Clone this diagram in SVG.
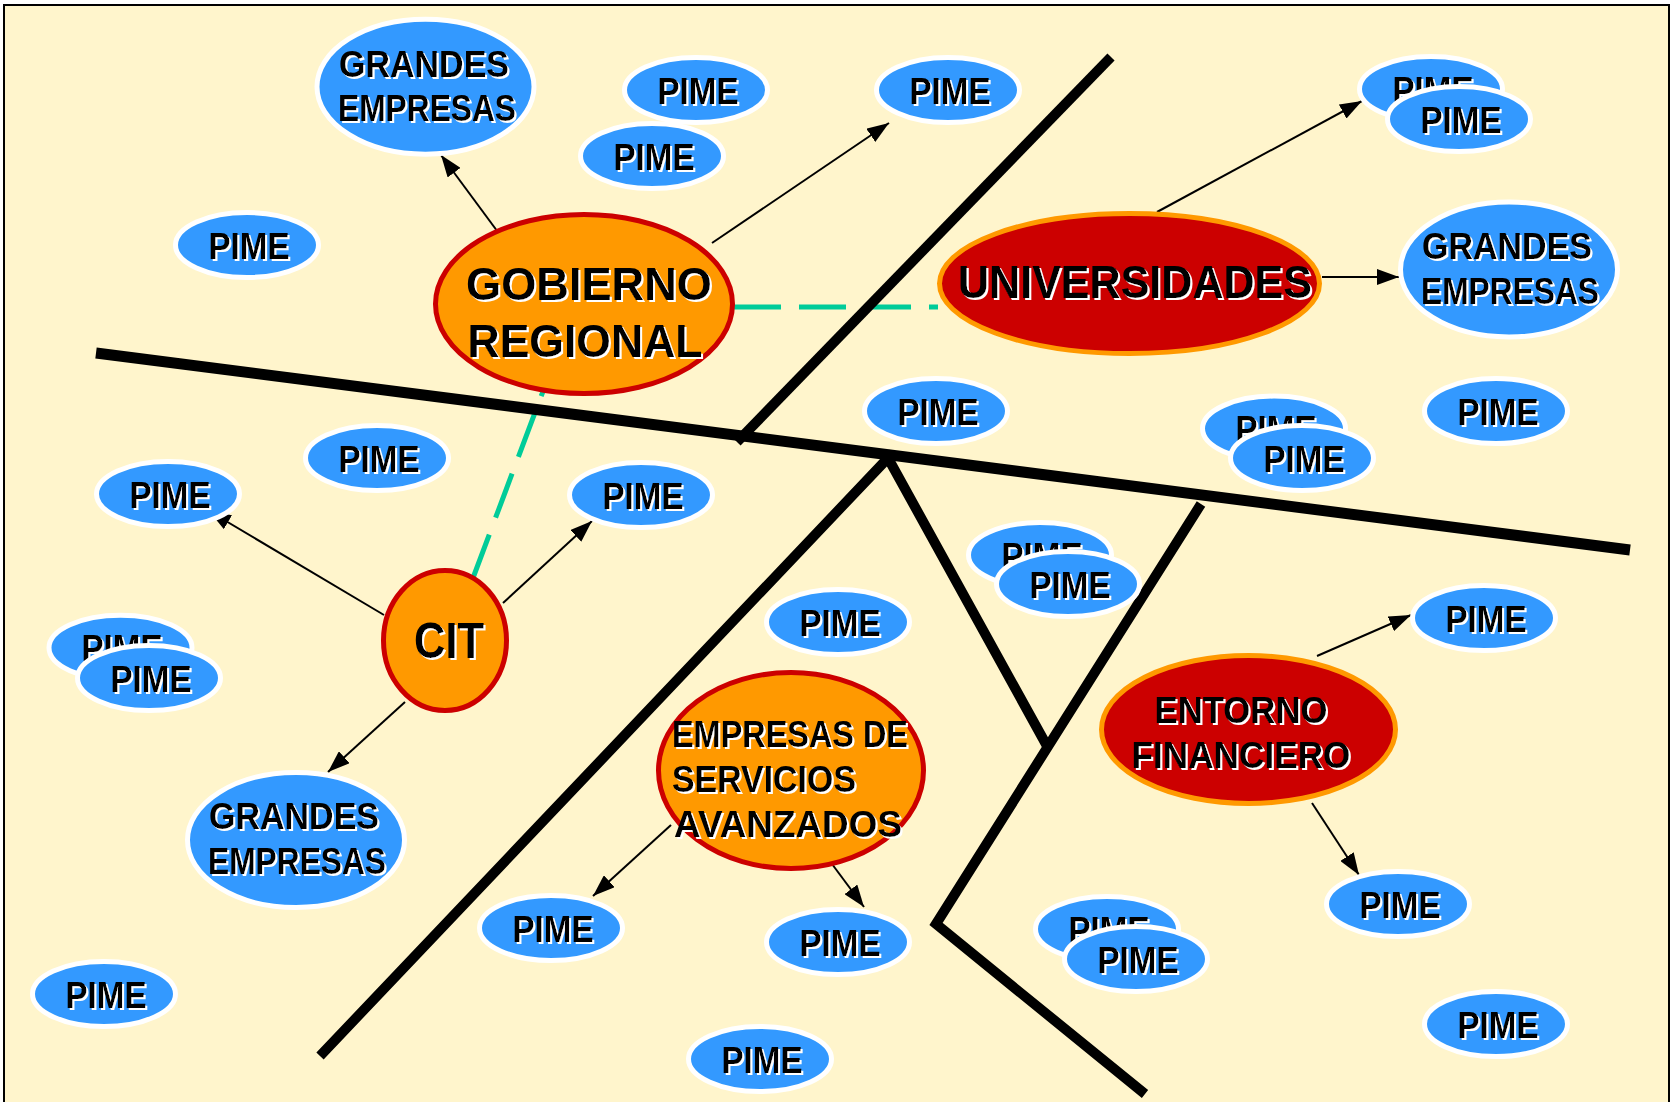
<svg xmlns="http://www.w3.org/2000/svg" width="1672" height="1102" viewBox="0 0 1672 1102">
<defs>
<style>
.pime{fill:#3399FF;stroke:#FFFFFF;stroke-width:5}
.org{fill:#FF9900;stroke:#CC0000;stroke-width:5}
.red{fill:#CC0000;stroke:#FF9900;stroke-width:5}
.t{font-family:"Liberation Sans",Arial,sans-serif;font-weight:bold;font-size:37px;fill:#000;text-anchor:middle;filter:url(#sh)}
.tl{text-anchor:start}
.thick{fill:none;stroke:#000;stroke-width:10;stroke-linejoin:miter;stroke-miterlimit:10}
.dash{fill:none;stroke:#00CC99;stroke-width:5;stroke-dasharray:47 18}
.arr{fill:none;stroke:#000;stroke-width:2;marker-end:url(#ah)}
</style>
<filter id="sh" x="-10%" y="-20%" width="130%" height="150%">
<feOffset in="SourceAlpha" dx="2" dy="2" result="o"/>
<feFlood flood-color="#FFFFFF"/>
<feComposite in2="o" operator="in" result="w"/>
<feMerge><feMergeNode in="w"/><feMergeNode in="SourceGraphic"/></feMerge>
</filter>
<marker id="ah" markerUnits="userSpaceOnUse" markerWidth="22" markerHeight="16" refX="22" refY="8" orient="auto">
<path d="M0,0 L22,8 L0,16 z" fill="#000"/>
</marker>
</defs>
<rect x="0" y="0" width="1672" height="1102" fill="#FFFFFF"/>
<rect x="4" y="5" width="1665" height="1110" fill="#FFF5CC" stroke="#000" stroke-width="2"/>

<g id="connectors">
<line class="dash" x1="734" y1="307" x2="938" y2="307"/>
<line class="dash" x1="557.7" y1="352" x2="473" y2="578"/>
<line class="thick" style="stroke-width:11" x1="96" y1="353" x2="1630" y2="550"/>
<line class="thick" x1="1111" y1="57" x2="737" y2="442"/>
<polyline class="thick" points="320,1056 888,458 1047,746"/>
<polyline class="thick" points="1201,504 936,924 1145,1094"/>
<line class="arr" x1="506" y1="243" x2="441" y2="155"/>
<line class="arr" x1="712" y1="243" x2="889" y2="123"/>
<line class="arr" x1="1157" y1="212" x2="1362" y2="101"/>
<line class="arr" x1="1322" y1="277" x2="1399" y2="277"/>
<line class="arr" x1="384" y1="615" x2="209" y2="511"/>
<line class="arr" x1="503" y1="603" x2="592" y2="521"/>
<line class="arr" x1="405" y1="702" x2="328" y2="772"/>
<line class="arr" x1="671" y1="825" x2="593" y2="896"/>
<line class="arr" x1="832" y1="864" x2="864" y2="907"/>
<line class="arr" x1="1317" y1="656" x2="1411" y2="615"/>
<line class="arr" x1="1312" y1="803" x2="1359" y2="875"/>
</g>

<g id="gobierno-regional"><ellipse class="org" cx="584" cy="304" rx="148.5" ry="89.5"/>
<text class="t" style="font-size:46px" x="589" y="300" textLength="246" lengthAdjust="spacingAndGlyphs">GOBIERNO</text>
<text class="t" style="font-size:46px" x="585" y="357" textLength="235" lengthAdjust="spacingAndGlyphs">REGIONAL</text></g>

<g id="universidades"><ellipse class="red" cx="1129.5" cy="283.5" rx="190" ry="70"/>
<text class="t" style="font-size:47px" x="1135" y="298" textLength="354" lengthAdjust="spacingAndGlyphs">UNIVERSIDADES</text></g>

<g id="cit"><ellipse class="org" cx="445" cy="640.5" rx="61.5" ry="70"/>
<text class="t" style="font-size:50px" x="449" y="658" textLength="70" lengthAdjust="spacingAndGlyphs">CIT</text></g>

<g id="empresas-servicios"><ellipse class="org" cx="791" cy="770.5" rx="132.5" ry="98"/>
<text class="t tl" x="672" y="747" textLength="236" lengthAdjust="spacingAndGlyphs">EMPRESAS DE</text>
<text class="t tl" x="672" y="792" textLength="184" lengthAdjust="spacingAndGlyphs">SERVICIOS</text>
<text class="t tl" x="674" y="837" textLength="228" lengthAdjust="spacingAndGlyphs">AVANZADOS</text></g>

<g id="entorno-financiero"><ellipse class="red" cx="1248.5" cy="729.5" rx="147" ry="74"/>
<text class="t" style="font-size:36px" x="1241" y="723" textLength="173" lengthAdjust="spacingAndGlyphs">ENTORNO</text>
<text class="t" style="font-size:36px" x="1241" y="768" textLength="219" lengthAdjust="spacingAndGlyphs">FINANCIERO</text></g>

<g id="grandes-1"><ellipse class="pime" cx="425.5" cy="86.7" rx="108.5" ry="67.5"/>
<text class="t" x="424" y="77" textLength="170" lengthAdjust="spacingAndGlyphs">GRANDES</text>
<text class="t" x="427" y="121" textLength="178" lengthAdjust="spacingAndGlyphs">EMPRESAS</text></g>
<g id="grandes-2"><ellipse class="pime" cx="1509" cy="269.5" rx="108.5" ry="67.5"/>
<text class="t" x="1507" y="259" textLength="170" lengthAdjust="spacingAndGlyphs">GRANDES</text>
<text class="t" x="1510" y="304" textLength="178" lengthAdjust="spacingAndGlyphs">EMPRESAS</text></g>
<g id="grandes-3"><ellipse class="pime" cx="296" cy="840" rx="108.5" ry="67.5"/>
<text class="t" x="294" y="829" textLength="170" lengthAdjust="spacingAndGlyphs">GRANDES</text>
<text class="t" x="297" y="874" textLength="178" lengthAdjust="spacingAndGlyphs">EMPRESAS</text></g>

<g id="pime-1"><ellipse class="pime" cx="696" cy="90" rx="71.5" ry="32.5"/><text class="t" x="698" y="104" textLength="81" lengthAdjust="spacingAndGlyphs">PIME</text></g>
<g id="pime-2"><ellipse class="pime" cx="652" cy="156" rx="71.5" ry="32.5"/><text class="t" x="654" y="170" textLength="81" lengthAdjust="spacingAndGlyphs">PIME</text></g>
<g id="pime-3"><ellipse class="pime" cx="948" cy="90" rx="71.5" ry="32.5"/><text class="t" x="950" y="104" textLength="81" lengthAdjust="spacingAndGlyphs">PIME</text></g>
<g id="pime-4"><ellipse class="pime" cx="247" cy="245" rx="71.5" ry="32.5"/><text class="t" x="249" y="259" textLength="81" lengthAdjust="spacingAndGlyphs">PIME</text></g>
<g id="pime-5"><ellipse class="pime" cx="1431" cy="89" rx="71.5" ry="32.5"/><text class="t" x="1433" y="103" textLength="81" lengthAdjust="spacingAndGlyphs">PIME</text></g>
<g id="pime-6"><ellipse class="pime" cx="1459" cy="119" rx="71.5" ry="32.5"/><text class="t" x="1461" y="133" textLength="81" lengthAdjust="spacingAndGlyphs">PIME</text></g>
<g id="pime-7"><ellipse class="pime" cx="936" cy="411" rx="71.5" ry="32.5"/><text class="t" x="938" y="425" textLength="81" lengthAdjust="spacingAndGlyphs">PIME</text></g>
<g id="pime-8"><ellipse class="pime" cx="1274" cy="428.6" rx="71.5" ry="32.5"/><text class="t" x="1276" y="442" textLength="81" lengthAdjust="spacingAndGlyphs">PIME</text></g>
<g id="pime-9"><ellipse class="pime" cx="1302" cy="458" rx="71.5" ry="32.5"/><text class="t" x="1304" y="472" textLength="81" lengthAdjust="spacingAndGlyphs">PIME</text></g>
<g id="pime-10"><ellipse class="pime" cx="1496" cy="411" rx="71.5" ry="32.5"/><text class="t" x="1498" y="425" textLength="81" lengthAdjust="spacingAndGlyphs">PIME</text></g>
<g id="pime-11"><ellipse class="pime" cx="377" cy="458" rx="71.5" ry="32.5"/><text class="t" x="379" y="472" textLength="81" lengthAdjust="spacingAndGlyphs">PIME</text></g>
<g id="pime-12"><ellipse class="pime" cx="168" cy="494" rx="71.5" ry="32.5"/><text class="t" x="170" y="508" textLength="81" lengthAdjust="spacingAndGlyphs">PIME</text></g>
<g id="pime-13"><ellipse class="pime" cx="641" cy="495" rx="71.5" ry="32.5"/><text class="t" x="643" y="509" textLength="81" lengthAdjust="spacingAndGlyphs">PIME</text></g>
<g id="pime-14"><ellipse class="pime" cx="120.5" cy="647.7" rx="71.5" ry="32.5"/><text class="t" x="122" y="661" textLength="81" lengthAdjust="spacingAndGlyphs">PIME</text></g>
<g id="pime-15"><ellipse class="pime" cx="149" cy="678" rx="71.5" ry="32.5"/><text class="t" x="151" y="692" textLength="81" lengthAdjust="spacingAndGlyphs">PIME</text></g>
<g id="pime-16"><ellipse class="pime" cx="1040" cy="555" rx="71.5" ry="32.5"/><text class="t" x="1042" y="569" textLength="81" lengthAdjust="spacingAndGlyphs">PIME</text></g>
<g id="pime-17"><ellipse class="pime" cx="1068" cy="584" rx="71.5" ry="32.5"/><text class="t" x="1070" y="598" textLength="81" lengthAdjust="spacingAndGlyphs">PIME</text></g>
<g id="pime-18"><ellipse class="pime" cx="838" cy="622" rx="71.5" ry="32.5"/><text class="t" x="840" y="636" textLength="81" lengthAdjust="spacingAndGlyphs">PIME</text></g>
<g id="pime-19"><ellipse class="pime" cx="1484" cy="618" rx="71.5" ry="32.5"/><text class="t" x="1486" y="632" textLength="81" lengthAdjust="spacingAndGlyphs">PIME</text></g>
<g id="pime-20"><ellipse class="pime" cx="551" cy="928" rx="71.5" ry="32.5"/><text class="t" x="553" y="942" textLength="81" lengthAdjust="spacingAndGlyphs">PIME</text></g>
<g id="pime-21"><ellipse class="pime" cx="838" cy="942" rx="71.5" ry="32.5"/><text class="t" x="840" y="956" textLength="81" lengthAdjust="spacingAndGlyphs">PIME</text></g>
<g id="pime-22"><ellipse class="pime" cx="104" cy="994" rx="71.5" ry="32.5"/><text class="t" x="106" y="1008" textLength="81" lengthAdjust="spacingAndGlyphs">PIME</text></g>
<g id="pime-23"><ellipse class="pime" cx="760" cy="1059" rx="71.5" ry="32.5"/><text class="t" x="762" y="1073" textLength="81" lengthAdjust="spacingAndGlyphs">PIME</text></g>
<g id="pime-24"><ellipse class="pime" cx="1107" cy="929" rx="71.5" ry="32.5"/><text class="t" x="1109" y="943" textLength="81" lengthAdjust="spacingAndGlyphs">PIME</text></g>
<g id="pime-25"><ellipse class="pime" cx="1136" cy="959" rx="71.5" ry="32.5"/><text class="t" x="1138" y="973" textLength="81" lengthAdjust="spacingAndGlyphs">PIME</text></g>
<g id="pime-26"><ellipse class="pime" cx="1398" cy="904" rx="71.5" ry="32.5"/><text class="t" x="1400" y="918" textLength="81" lengthAdjust="spacingAndGlyphs">PIME</text></g>
<g id="pime-27"><ellipse class="pime" cx="1496" cy="1024" rx="71.5" ry="32.5"/><text class="t" x="1498" y="1038" textLength="81" lengthAdjust="spacingAndGlyphs">PIME</text></g>
</svg>
